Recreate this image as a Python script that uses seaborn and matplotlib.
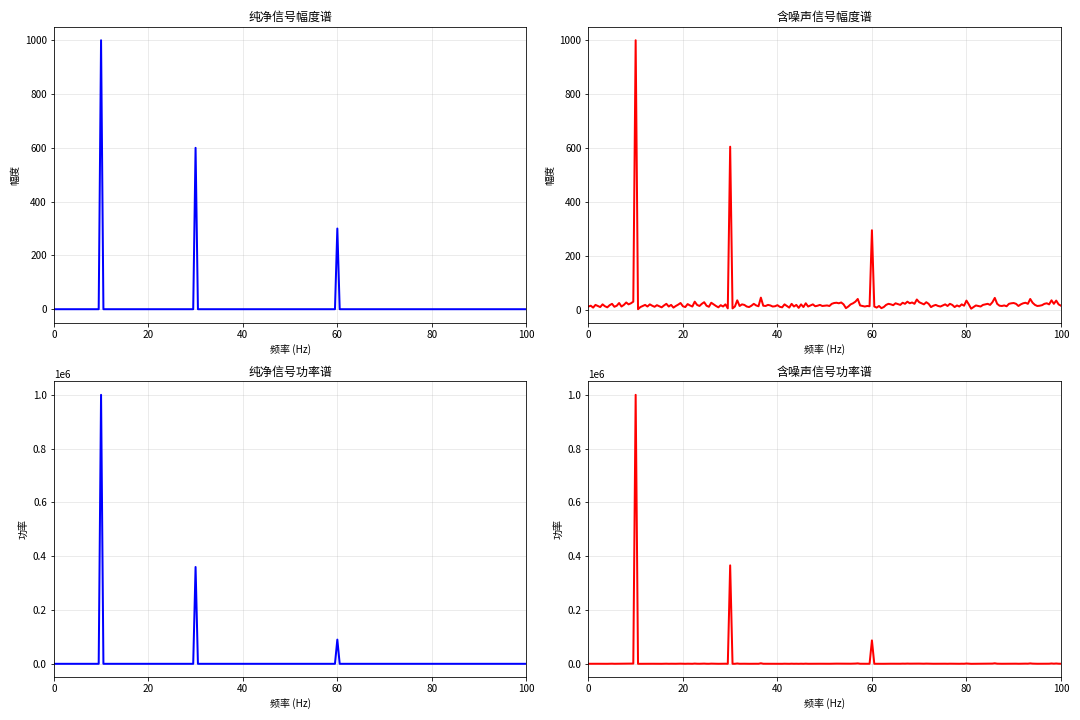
import numpy as np
import pandas as pd
import matplotlib
matplotlib.use("Agg")
import matplotlib.pyplot as plt
import seaborn as sns

plt.rcParams['font.family'] = ['Noto Sans CJK SC', 'DejaVu Sans']
plt.rcParams['axes.unicode_minus'] = False

# Frequency bins (0.5 Hz resolution, 0-100 Hz)
freqs = np.arange(0, 100.5, 0.5)

peak_freqs = [10, 30, 60]
clean_peaks = [1000, 600, 300]
noisy_peaks = [1000, 605, 295]

# Noise floor of the noisy magnitude spectrum, peak bins excluded
noise_0_95 = [12, 15, 8, 18, 14, 10, 20, 13, 9, 17, 22, 11, 15, 25, 12, 18, 27, 20, 24, 30]
noise_105_295 = [2, 10, 14, 18, 12, 20, 15, 11, 17, 13, 9, 16, 22, 12, 18, 8, 14, 19, 25, 13,
                 10, 21, 16, 12, 30, 18, 14, 22, 28, 15, 11, 26, 20, 14, 9, 17, 12, 20, 5]
noise_305_595 = [5, 12, 35, 14, 20, 18, 12, 10, 15, 22, 16, 13, 45, 15, 14, 18, 16, 12, 13, 17,
                 11, 9, 20, 14, 8, 22, 12, 18, 7, 20, 10, 24, 12, 16, 20, 13, 15, 18, 14,
                 15, 16, 14, 22, 25, 26, 24, 27, 20, 6, 12, 20, 24, 30, 40, 16, 14, 12, 14, 13]
noise_605_100 = [12, 8, 14, 6, 10, 18, 22, 20, 17, 24, 21, 18, 26, 22, 30, 24, 27, 22, 38, 28,
                 24, 20, 28, 22, 10, 15, 18, 14, 12, 16, 20, 14, 22, 18, 10, 16, 12, 20, 15,
                 34, 20, 4, 10, 16, 14, 12, 18, 20, 22, 18, 28, 44, 22, 15, 14, 16, 13, 22, 24,
                 25, 22, 14, 20, 24, 26, 22, 40, 26, 18, 14, 15, 17, 22, 24, 20, 35, 22, 34, 20, 15]

noisy_mag = np.array(noise_0_95 + [noisy_peaks[0]] + noise_105_295 + [noisy_peaks[1]]
                     + noise_305_595 + [noisy_peaks[2]] + noise_605_100, dtype=float)

clean_mag = np.zeros_like(freqs)
for f, a in zip(peak_freqs, clean_peaks):
    clean_mag[np.argmin(np.abs(freqs - f))] = a

df = pd.DataFrame({
    'freq': freqs,
    'clean_mag': clean_mag,
    'noisy_mag': noisy_mag,
    'clean_pow': clean_mag ** 2,
    'noisy_pow': noisy_mag ** 2,
})

fig, axes = plt.subplots(2, 2, figsize=(15, 10), dpi=72)

panels = [
    (axes[0, 0], 'clean_mag', 'blue', '纯净信号幅度谱', '幅度'),
    (axes[0, 1], 'noisy_mag', 'red', '含噪声信号幅度谱', '幅度'),
    (axes[1, 0], 'clean_pow', 'blue', '纯净信号功率谱', '功率'),
    (axes[1, 1], 'noisy_pow', 'red', '含噪声信号功率谱', '功率'),
]

for ax, col, color, title, ylabel in panels:
    sns.lineplot(data=df, x='freq', y=col, ax=ax, color=color, linewidth=2)
    ax.set_title(title)
    ax.set_xlabel('频率 (Hz)')
    ax.set_ylabel(ylabel)
    ax.set_xlim(0, 100)
    ax.grid(True, alpha=0.3)

plt.tight_layout()
fig.savefig('out.png', dpi=72)
